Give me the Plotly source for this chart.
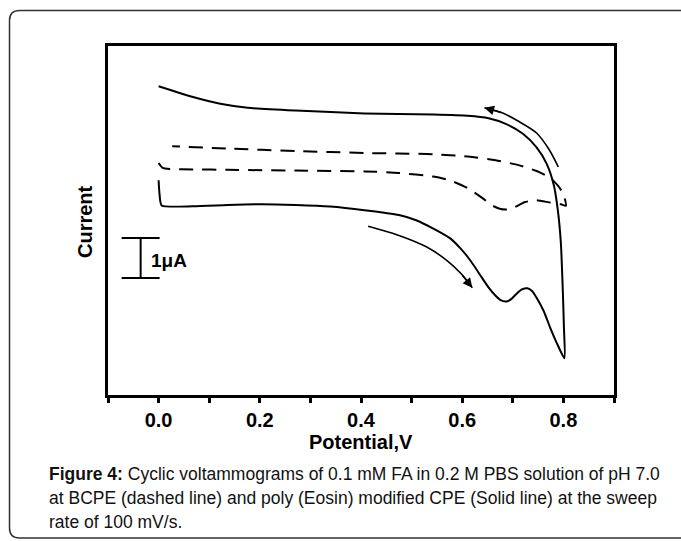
import plotly.graph_objects as go

# ---- data (potential in V, current in uA, arbitrary offset) ----
solid_v = [0.000, 0.002, 0.006, 0.068, 0.136, 0.204, 0.271, 0.339, 0.407, 0.475, 0.509,
           0.543, 0.577, 0.597, 0.611, 0.625, 0.638, 0.652, 0.666, 0.676, 0.688, 0.698,
           0.708, 0.718, 0.729, 0.738, 0.747, 0.761, 0.774, 0.788, 0.802,
           0.801, 0.799, 0.795, 0.789, 0.781, 0.767, 0.747, 0.720, 0.686, 0.652, 0.611,
           0.543, 0.407, 0.271, 0.176, 0.122, 0.068, 0.000]
solid_i = [5.37, 5.00, 4.74, 4.72, 4.75, 4.77, 4.75, 4.71, 4.62, 4.50, 4.37,
           4.16, 3.91, 3.66, 3.45, 3.20, 2.95, 2.69, 2.48, 2.37, 2.34, 2.41,
           2.54, 2.64, 2.67, 2.60, 2.43, 2.10, 1.68, 1.27, 0.92,
           1.70, 2.55, 3.80, 4.62, 5.25, 5.78, 6.19, 6.53, 6.78, 6.92, 6.98,
           7.01, 7.04, 7.11, 7.18, 7.28, 7.45, 7.72]

dashed_v = [0.000, 0.008, 0.022, 0.068, 0.136, 0.271, 0.407, 0.475, 0.543, 0.577, 0.611,
            0.638, 0.659, 0.676, 0.690, 0.706, 0.723, 0.747, 0.774, 0.795, 0.805,
            0.800, 0.790, 0.774, 0.747, 0.713, 0.666, 0.611, 0.543, 0.407, 0.271, 0.136, 0.027]
dashed_i = [5.80, 5.68, 5.65, 5.64, 5.63, 5.61, 5.59, 5.55, 5.46, 5.36, 5.17,
            4.94, 4.74, 4.65, 4.64, 4.71, 4.82, 4.87, 4.81, 4.77, 4.73,
            5.02, 5.22, 5.43, 5.60, 5.74, 5.87, 5.96, 6.02, 6.05, 6.10, 6.16, 6.22]

arrow_up_v = [0.790, 0.772, 0.747, 0.713, 0.680, 0.644]
arrow_up_i = [5.70, 6.13, 6.55, 6.83, 7.05, 7.18]
arrow_dn_v = [0.414, 0.475, 0.530, 0.570, 0.598, 0.620]
arrow_dn_i = [4.22, 3.99, 3.70, 3.36, 3.03, 2.68]

x_ticks = [0.0, 0.2, 0.4, 0.6, 0.8]
x_tick_labels = ["0.0", "0.2", "0.4", "0.6", "0.8"]

scale_bar_x = [-0.073, 0.002]
scale_bar_bottom = 2.925
scale_bar_size = 1.0
scale_bar_label = "1\u03bcA"

caption_lines = [
    "<b>Figure 4:</b> Cyclic voltammograms of 0.1 mM FA in 0.2 M PBS solution of pH 7.0",
    "at BCPE (dashed line) and poly (Eosin) modified CPE (Solid line) at the sweep",
    "rate of 100 mV/s.",
]

W, H = 681, 541
L, R, T, B = 108, 67, 46, 146
pw, ph = W - L - R, H - T - B

def px2paper_x(px):
    return (px - L) / pw

def py2paper_y(py):
    return (H - B - py) / ph

FONT = "Liberation Sans, Arial, sans-serif"

fig = go.Figure()
fig.add_trace(go.Scatter(x=solid_v, y=solid_i, mode="lines",
                         line=dict(color="black", width=2, shape="spline", smoothing=0.6),
                         showlegend=False, hoverinfo="skip"))
fig.add_trace(go.Scatter(x=dashed_v, y=dashed_i, mode="lines",
                         line=dict(color="black", width=2, dash="14px,9px", shape="spline", smoothing=0.6),
                         showlegend=False, hoverinfo="skip"))
for av, ai in ((arrow_up_v, arrow_up_i), (arrow_dn_v, arrow_dn_i)):
    fig.add_trace(go.Scatter(x=av, y=ai, mode="lines",
                             line=dict(color="black", width=1.6, shape="spline", smoothing=0.8),
                             showlegend=False, hoverinfo="skip"))
    fig.add_annotation(x=av[-1], y=ai[-1], ax=av[-2], ay=ai[-2], axref="x", ayref="y",
                       xref="x", yref="y", text="", showarrow=True, arrowhead=2,
                       arrowsize=1.2, arrowwidth=1.6, arrowcolor="black")

# scale bar
sb_c = sum(scale_bar_x) / 2
sb_top = scale_bar_bottom + scale_bar_size
fig.add_trace(go.Scatter(
    x=[scale_bar_x[0], scale_bar_x[1], None, sb_c, sb_c, None, scale_bar_x[0], scale_bar_x[1]],
    y=[sb_top, sb_top, None, sb_top, scale_bar_bottom, None, scale_bar_bottom, scale_bar_bottom],
    mode="lines", line=dict(color="black", width=2), showlegend=False, hoverinfo="skip"))
fig.add_annotation(x=sb_c + 0.016, y=scale_bar_bottom + scale_bar_size / 2 - 0.06,
                   xref="x", yref="y", text="<b>" + scale_bar_label + "</b>", showarrow=False,
                   xanchor="left", yanchor="middle", font=dict(family=FONT, size=19, color="black"))

# axis titles
fig.add_annotation(x=px2paper_x(85), y=py2paper_y(222), xref="paper", yref="paper",
                   text="<b>Current</b>", textangle=-90, showarrow=False,
                   xanchor="center", yanchor="middle",
                   font=dict(family=FONT, size=20, color="black"))
fig.add_annotation(x=px2paper_x(361), y=py2paper_y(442), xref="paper", yref="paper",
                   text="<b>Potential,V</b>", showarrow=False,
                   xanchor="center", yanchor="middle",
                   font=dict(family=FONT, size=20, color="black"))

# caption
cap_y = [474, 498, 522]
for txt, cy in zip(caption_lines, cap_y):
    fig.add_annotation(x=px2paper_x(47), y=py2paper_y(cy), xref="paper", yref="paper",
                       text=txt, showarrow=False, xanchor="left", yanchor="middle",
                       font=dict(family=FONT, size=17.5, color="#111111"))

# outer rounded frame
fl, ft, fr, fb = px2paper_x(9.5), py2paper_y(10.5), px2paper_x(720), py2paper_y(538)
rx, ry = 10 / pw, 10 / ph
path = (f"M {fr},{ft} L {fl + rx},{ft} Q {fl},{ft} {fl},{ft - ry} "
        f"L {fl},{fb + ry} Q {fl},{fb} {fl + rx},{fb} L {fr},{fb}")
fig.add_shape(type="path", path=path, xref="paper", yref="paper",
              line=dict(color="#333333", width=1.5))

fig.update_xaxes(range=[-0.1, 0.9], showline=True, linecolor="black", linewidth=3, mirror=True,
                 ticks="outside", ticklen=5, tickwidth=2.5, tickcolor="black",
                 tickvals=x_ticks, ticktext=["<b>" + t + "</b>" for t in x_tick_labels],
                 minor=dict(dtick=0.1, tick0=0, ticks="outside", ticklen=5, tickwidth=2.5, tickcolor="black"),
                 showgrid=False, zeroline=False,
                 tickfont=dict(family=FONT, size=20, color="black"))
fig.update_yaxes(range=[0, 8.725], showline=True, linecolor="black", linewidth=3, mirror=True,
                 ticks="", showticklabels=False, showgrid=False, zeroline=False)

fig.update_layout(width=W, height=H, margin=dict(l=L, r=R, t=T, b=B, autoexpand=False),
                  plot_bgcolor="white", paper_bgcolor="white", showlegend=False)

fig.write_html("out.html")
